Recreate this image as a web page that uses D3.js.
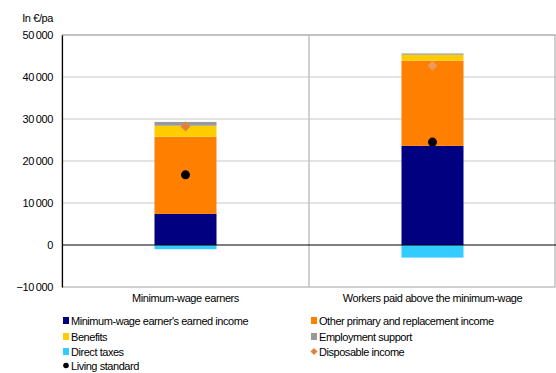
<!DOCTYPE html>
<html><head><meta charset="utf-8">
<script src="https://cdn.jsdelivr.net/npm/d3@7"></script>
<style>body{margin:0;background:#fff}svg{display:block;font-family:"Liberation Sans",Arial,sans-serif}</style>
</head><body><svg id="c" width="556" height="373"></svg>
<script>
const categories = ["Minimum-wage earners", "Workers paid above the minimum-wage"];
const earnedIncome = [7400, 23600];
const otherIncome = [18400, 20300];
const benefits = [2600, 1400];
const employmentSupport = [900, 300];
const directTaxes = [-1000, -3000];
const disposableIncome = [28200, 42700];
const livingStandard = [16700, 24500];
const yTicks = [-10000, 0, 10000, 20000, 30000, 40000, 50000];
const seriesNames = ["Minimum-wage earner's earned income","Other primary and replacement income","Benefits","Employment support","Direct taxes","Disposable income","Living standard"];
const colors = ["#000080","#FF7F00","#FFCC00","#999999","#33CCFF","#E0813F","#000000"];

const svg = d3.select("#c");
const L = 62, R = 556, T = 35, B = 287;
const y = d3.scaleLinear().domain([-10000, 50000]).range([B, T]);
const x = d3.scaleBand().domain(categories).range([L, R]).paddingInner(0).paddingOuter(0);
const fmt = v => d3.format(",")(v).replace(/,/g, "\u2009");

// grid
svg.append("g").selectAll("line").data(yTicks.filter(v => v !== 0 && v !== -10000)).join("line")
  .attr("x1", L).attr("x2", R).attr("y1", d => y(d)).attr("y2", d => y(d))
  .attr("stroke", "#c8c8c8").attr("stroke-width", 1);
// frame
svg.append("rect").attr("x", L).attr("y", T).attr("width", R - L - 1).attr("height", B - T)
  .attr("fill", "none").attr("stroke", "#a0a0a0").attr("stroke-width", 1);
// divider between categories
svg.append("line").attr("x1", x(categories[1])).attr("x2", x(categories[1])).attr("y1", T).attr("y2", B)
  .attr("stroke", "#c0c0c0").attr("stroke-width", 1.5);

// stacked bars
const bw = 62;
const stacks = [earnedIncome, otherIncome, benefits, employmentSupport];
categories.forEach((c, i) => {
  const cx = x(c) + x.bandwidth() / 2;
  let base = 0;
  stacks.forEach((s, k) => {
    const v = s[i];
    svg.append("rect").attr("x", cx - bw / 2).attr("width", bw)
      .attr("y", y(base + v)).attr("height", y(base) - y(base + v)).attr("fill", colors[k]);
    base += v;
  });
  svg.append("rect").attr("x", cx - bw / 2).attr("width", bw)
    .attr("y", y(0)).attr("height", y(directTaxes[i]) - y(0)).attr("fill", colors[4]);
});

// zero line & left axis
svg.append("line").attr("x1", L).attr("x2", R).attr("y1", y(0)).attr("y2", y(0)).attr("stroke", "#000").attr("stroke-width", 1.2);
const yAxis = d3.axisLeft(y).tickValues(yTicks).tickSize(0).tickPadding(9).tickFormat(fmt);
const ga = svg.append("g").attr("transform", `translate(${L},0)`).call(yAxis);
ga.select(".domain").attr("stroke", "#000").attr("stroke-width", 1.2);
ga.selectAll("text").attr("font-size", 11).attr("fill", "#000").attr("font-family", "Liberation Sans, Arial, sans-serif").attr("letter-spacing", "-0.4");

// markers
const diamond = s => `M0,${-s}L${s},0L0,${s}L${-s},0Z`;
categories.forEach((c, i) => {
  const cx = x(c) + x.bandwidth() / 2;
  svg.append("path").attr("d", diamond(5))
    .attr("transform", `translate(${cx},${y(disposableIncome[i])})`)
    .attr("fill", i === 1 ? "#EE9A5A" : colors[5]);
  svg.append("circle").attr("cx", cx).attr("cy", y(livingStandard[i])).attr("r", 4.5).attr("fill", "#000");
});

// category labels
svg.append("g").selectAll("text").data(categories).join("text")
  .attr("x", d => x(d) + x.bandwidth() / 2).attr("y", 302).attr("text-anchor", "middle")
  .attr("font-size", 11).attr("letter-spacing", "-0.4").text(d => d);

// unit label
svg.append("text").attr("x", 53).attr("y", 22).attr("text-anchor", "end").attr("font-size", 11).attr("letter-spacing", "-0.4").text("In €/pa");

// legend
const legPos = [[63, 325], [311, 325], [63, 341], [311, 341], [63, 356], [311, 356], [63, 370]];
seriesNames.forEach((n, k) => {
  const [lx, ly] = legPos[k];
  const g = svg.append("g");
  if (k < 5) g.append("rect").attr("x", lx).attr("y", ly - 8).attr("width", 6).attr("height", 7).attr("fill", colors[k]);
  else if (k === 5) g.append("path").attr("d", diamond(3.5)).attr("transform", `translate(${lx + 3},${ly - 4.5})`).attr("fill", colors[k]);
  else g.append("circle").attr("cx", lx + 3).attr("cy", ly - 4.5).attr("r", 2.8).attr("fill", "#000");
  g.append("text").attr("x", lx + 8).attr("y", ly).attr("font-size", 11).attr("letter-spacing", "-0.45").text(n);
});
</script></body></html>
